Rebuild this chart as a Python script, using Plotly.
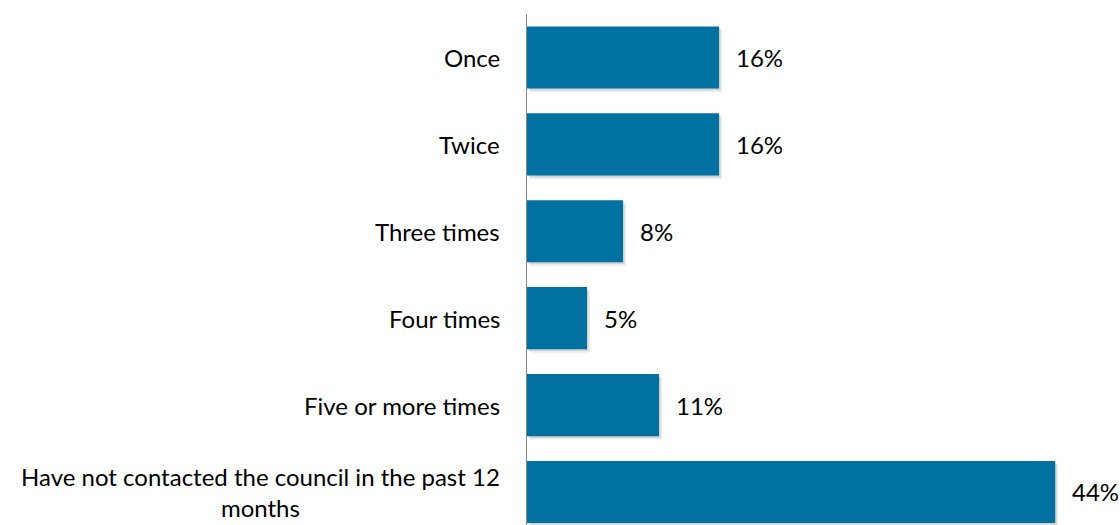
import plotly.graph_objects as go

categories = [
    "Once",
    "Twice",
    "Three times",
    "Four times",
    "Five or more times",
    "Have not contacted the council in the past 12<br>months",
]
values = [16, 16, 8, 5, 11, 44]
value_labels = [f"{v}%" for v in values]

BAR_COLOR = "#0071A1"
FONT = "Lato"
FONT_SIZE = 24
BAR_WIDTH = 0.715
positions = list(range(len(categories)))

fig = go.Figure()

# soft drop shadow behind each bar
for k, alpha in enumerate([0.10, 0.08]):
    fig.add_trace(go.Bar(
        y=positions, x=values, orientation="h",
        base=0.12 * (k + 1),
        width=BAR_WIDTH, offset=-BAR_WIDTH / 2 + 0.02 * (k + 1),
        marker=dict(color=f"rgba(0,0,0,{alpha})", line=dict(width=0)),
        hoverinfo="skip", showlegend=False,
    ))

fig.add_trace(go.Bar(
    y=positions, x=values, orientation="h",
    width=BAR_WIDTH, offset=-BAR_WIDTH / 2,
    marker=dict(color=BAR_COLOR, line=dict(width=0)),
    showlegend=False,
))

annotations = []
for p, cat, v, lab in zip(positions, categories, values, value_labels):
    annotations.append(dict(
        x=0, xref="paper", y=p, yref="y", text=cat, showarrow=False,
        xanchor="right", yanchor="middle", align="center", xshift=-25,
        font=dict(family=FONT, size=FONT_SIZE, color="#000000"),
    ))
    annotations.append(dict(
        x=v, xref="x", y=p, yref="y", text=lab, showarrow=False,
        xanchor="left", yanchor="middle", xshift=15,
        font=dict(family=FONT, size=FONT_SIZE, color="#000000"),
    ))

fig.update_layout(
    width=1120, height=525,
    margin=dict(l=527, r=0, t=14, b=0),
    paper_bgcolor="white", plot_bgcolor="white",
    barmode="overlay",
    annotations=annotations,
    xaxis=dict(range=[0, 49.4], visible=False, fixedrange=True),
    yaxis=dict(
        range=[5.38, -0.5], showticklabels=False, ticks="",
        showgrid=False, zeroline=False,
        showline=True, linecolor="#888888", linewidth=1,
    ),
)

fig.write_html("out.html")
